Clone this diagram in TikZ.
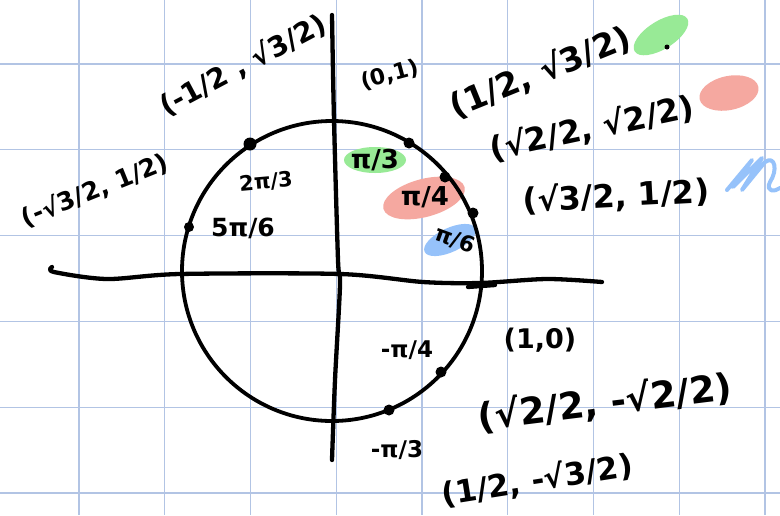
\documentclass[tikz,border=0pt]{standalone}
\usepackage{fontspec}
\setmainfont{DejaVu Sans}
\definecolor{gridc}{RGB}{178,196,228}
\definecolor{hlgreen}{RGB}{152,234,150}
\definecolor{hlred}{RGB}{245,168,160}
\definecolor{hlblue}{RGB}{150,194,250}
\tikzset{
  gridline/.style={gridc, line width=1.2pt},
  ink/.style={black, line width=4.3pt, line cap=round, line join=round},
  dotmark/.style={circle, fill=black, inner sep=0pt, minimum size=11pt},
  lbl/.style={font=\bfseries\fontsize{#1}{#1}\selectfont, inner sep=0pt},
  scribble/.style={hlblue, line width=4pt, line cap=round, line join=round},
}
\begin{document}
\begin{tikzpicture}[x=1pt,y=-1pt]
\useasboundingbox (0,0) rectangle (780,515);
\fill[white] (0,0) rectangle (780,515);
% grid
\foreach \i in {0,...,8} \draw[gridline] ({79+85.75*\i},0) -- ({79+85.75*\i},515);
\foreach \j in {0,...,5} \draw[gridline] (0,{64+85.8*\j}) -- (780,{64+85.8*\j});
% highlights
\begin{scope}[shift={(661,35)},rotate=32]\fill[hlgreen] (0,0) ellipse [x radius=31, y radius=14];\end{scope}
\begin{scope}[shift={(729,93)},rotate=12]\fill[hlred] (0,0) ellipse [x radius=30, y radius=17];\end{scope}
\draw[scribble] (727,190) -- (752,160) -- (733,187) -- (762,158) -- (742,190) -- (765,162)
  .. controls (775,155) and (778,170) .. (770,182) .. controls (765,192) and (775,192) .. (780,188);
\fill[hlgreen] (375,160) ellipse [x radius=31, y radius=13];
\begin{scope}[shift={(424,198)},rotate=15]\fill[hlred] (0,0) ellipse [x radius=42, y radius=19];\end{scope}
\begin{scope}[shift={(450,240)},rotate=25]\fill[hlblue] (0,0) ellipse [x radius=28, y radius=12];\end{scope}
% axes
\draw[ink] plot[smooth] coordinates {(52,267) (54,272) (107,279) (180,274) (340,274) (423,282) (480,283) (547,279) (602,282)};
\draw[ink] plot[smooth] coordinates {(332,15) (334,120) (338,260) (340,285) (335,380) (332,460)};
\draw[ink] (468,287) -- (495,285);
% circle
\node[draw=none, inner sep=0pt] (O) at (332,271) {};
\draw[ink, line width=3.8pt] (O) circle [radius=150];
% points
\node[dotmark] (p60) at (409,143) {};
\node[dotmark] (p45) at (445,177) {};
\node[dotmark] (p30) at (473,213) {};
\node[dotmark, minimum size=13pt] (p120) at (250,144) {};
\node[dotmark, minimum size=10pt] (p150) at (189,227) {};
\node[dotmark] (pm45) at (441,372) {};
\node[dotmark] (pm60) at (389,410) {};
\fill (667,47) circle [radius=2.5];
% labels
\node[lbl=28, rotate=28] (l120) at (243,65) {(-1/2 , √3/2)};
\node[lbl=22, rotate=15] (l90) at (390,75) {(0,1)};
\node[lbl=33, rotate=22] (l60) at (540,72) {(1/2, √3/2)};
\node[lbl=32, rotate=12] (l45) at (592,128) {(√2/2, √2/2)};
\node[lbl=32, rotate=3] (l30) at (616,196) {(√3/2, 1/2)};
\node[lbl=25, rotate=22] (l150) at (95,190) {(-√3/2, 1/2)};
\node[lbl=21, rotate=5] (a120) at (266,182) {2π/3};
\node[lbl=25] (a150) at (243,228) {5π/6};
\node[lbl=26] (a60) at (375,160) {π/3};
\node[lbl=26] (a45) at (425,197) {π/4};
\node[lbl=22, rotate=-20] (a30) at (455,240) {π/6};
\node[lbl=23] (am45) at (407,350) {-π/4};
\node[lbl=23] (am60) at (397,450) {-π/3};
\node[lbl=27] (l0) at (540,340) {(1,0)};
\node[lbl=37, rotate=7] (lm45) at (605,402) {(√2/2, -√2/2)};
\node[lbl=31, rotate=9] (lm60) at (537,480) {(1/2, -√3/2)};
\end{tikzpicture}
\end{document}
